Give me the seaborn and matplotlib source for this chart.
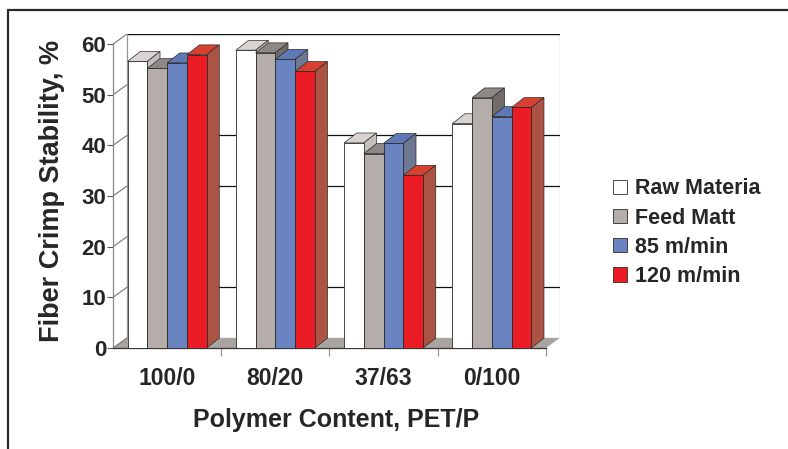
import numpy as np
import pandas as pd
import matplotlib
matplotlib.use("Agg")
import matplotlib.pyplot as plt
from matplotlib.patches import Polygon
from matplotlib.lines import Line2D
import seaborn as sns

# ---- data ----
categories = ["100/0", "80/20", "37/63", "0/100"]
series = ["Raw Materia", "Feed Matt", "85 m/min", "120 m/min"]
raw_materia = [56.6, 58.8, 40.5, 44.3]
feed_matt = [55.2, 58.3, 38.4, 49.4]
speed_85 = [56.3, 57.0, 40.4, 45.7]
speed_120 = [57.9, 54.6, 34.1, 47.5]
y_ticks = [0, 10, 20, 30, 40, 50, 60]

# ---- colours for the three visible faces of each bar ----
front_colors = ["#ffffff", "#b4adaa", "#6a84c1", "#ec1c24"]
top_colors = ["#d9d4d1", "#8d8885", "#5f78b6", "#d8412f"]
side_colors = ["#c4bfbc", "#716c6a", "#6e7791", "#ab5443"]

df = pd.DataFrame({
    "category": np.repeat(categories, len(series)),
    "series": series * len(categories),
    "value": np.ravel(np.column_stack([raw_materia, feed_matt, speed_85, speed_120])),
})

sns.set_theme(style="white")
plt.rcParams["font.family"] = ["Liberation Sans", "DejaVu Sans"]
plt.rcParams["font.weight"] = "bold"

W, H = 788, 449
fig = plt.figure(figsize=(W / 100, H / 100), dpi=100)
fig.patch.set_facecolor("white")

# depth of the pseudo-3D walls and bars (x in category units, y in value units)
wall_dx, wall_dy = 0.13, 2.0
bar_dx, bar_dy = 0.117, 1.95
y_top = 60 + wall_dy

ax = fig.add_axes([113 / W, 1 - 348 / H, (560 - 113) / W, (348 - 34) / H])
ax.set_facecolor("none")

sns.barplot(data=df, x="category", y="value", hue="series", order=categories,
            hue_order=series, palette=front_colors, saturation=1, width=0.73,
            edgecolor="#2b2b2b", linewidth=0.6, ax=ax, zorder=3)

ax.set_xlim(-0.5, 3.5 + wall_dx)
ax.set_ylim(0, y_top)

# floor, back wall and side-wall tick lines
x0, x1 = -0.5, len(categories) - 0.5
ax.add_patch(Polygon([(x0, 0), (x1, 0), (x1 + wall_dx, wall_dy), (x0 + wall_dx, wall_dy)],
                     closed=True, facecolor="#aaa4a1", edgecolor="none", zorder=0.6))
ax.add_patch(Polygon([(x0 + wall_dx, wall_dy), (x1 + wall_dx, wall_dy),
                      (x1 + wall_dx, y_top), (x0 + wall_dx, y_top)],
                     closed=True, facecolor="white", edgecolor="none", zorder=0.5))
ax.plot([x0 + wall_dx, x1 + wall_dx], [y_top, y_top], color="#111111", lw=1.0, zorder=0.8)
ax.plot([x0 + wall_dx] * 2, [wall_dy, y_top], color="#999999", lw=0.9, zorder=0.8)
ax.plot([x1 + wall_dx] * 2, [wall_dy, y_top], color="#999999", lw=0.9, zorder=0.8)
for v in [10, 30, 40]:
    ax.plot([x0 + wall_dx, x1 + wall_dx], [v + wall_dy] * 2, color="#111111", lw=0.9, zorder=0.7)
for v in y_ticks:
    ax.plot([x0, x0 + wall_dx], [v, v + wall_dy], color="#777777", lw=0.8, zorder=0.8)

# top and side faces, layered left to right so each bar hides its neighbour's side
bars = []
for j, cont in enumerate(ax.containers):
    for p in cont.patches:
        bars.append((p.get_x(), j, p))
bars.sort(key=lambda t: t[0])
for i, (bx, j, p) in enumerate(bars):
    w, h = p.get_width(), p.get_height()
    z = 3 + 2 * i
    ax.add_patch(Polygon([(bx, h), (bx + w, h), (bx + w + bar_dx, h + bar_dy), (bx + bar_dx, h + bar_dy)],
                         closed=True, facecolor=top_colors[j], edgecolor="#2b2b2b", lw=0.5, zorder=z))
    ax.add_patch(Polygon([(bx + w, 0), (bx + w, h), (bx + w + bar_dx, h + bar_dy), (bx + w + bar_dx, bar_dy)],
                         closed=True, facecolor=side_colors[j], edgecolor="#2b2b2b", lw=0.5, zorder=z))
    p.set_zorder(z + 1)

# axes, ticks and labels
for s in ["top", "right"]:
    ax.spines[s].set_visible(False)
ax.spines["left"].set_bounds(0, 60)
ax.spines["left"].set_color("#888888")
ax.spines["left"].set_linewidth(0.9)
ax.spines["bottom"].set_bounds(x0, x1)
ax.spines["bottom"].set_color("#333333")
ax.spines["bottom"].set_linewidth(0.9)

ax.set_yticks(y_ticks)
ax.set_yticklabels([str(v) for v in y_ticks], fontsize=16, fontweight="bold")
ax.tick_params(axis="y", left=True, length=4, width=0.8, color="#555555", pad=1)

ax.set_xticks(range(len(categories)))
ax.set_xticklabels(categories, fontsize=16.5, fontweight="bold")
ax.set_xticks([k + 0.5 for k in range(len(categories))], minor=True)
ax.tick_params(axis="x", which="major", length=0, pad=14)
ax.tick_params(axis="x", which="minor", bottom=True, length=6, width=0.9, color="#999999")
ax.grid(False)

ax.set_xlabel("Polymer Content, PET/P", fontsize=18, fontweight="bold", labelpad=13)
ax.set_ylabel("Fiber Crimp Stability, %", fontsize=19.5, fontweight="bold", labelpad=12)

handles, labels = ax.get_legend_handles_labels()
ax.legend(handles, labels, loc="upper left", bbox_to_anchor=(594 / W, 1 - 159 / H),
          bbox_transform=fig.transFigure, frameon=False,
          handlelength=0.65, handleheight=0.65, handletextpad=0.35, labelspacing=0.38,
          prop={"weight": "bold", "size": 15.5})

# outer frame
fig.add_artist(Line2D([8 / W, 8 / W], [0, 1 - 10 / H], transform=fig.transFigure,
                      color="#2a2a2a", lw=1.6))
fig.add_artist(Line2D([8 / W, 1], [1 - 10 / H, 1 - 10 / H], transform=fig.transFigure,
                      color="#2a2a2a", lw=1.6))

fig.savefig("out.png", dpi=100, facecolor="white")
